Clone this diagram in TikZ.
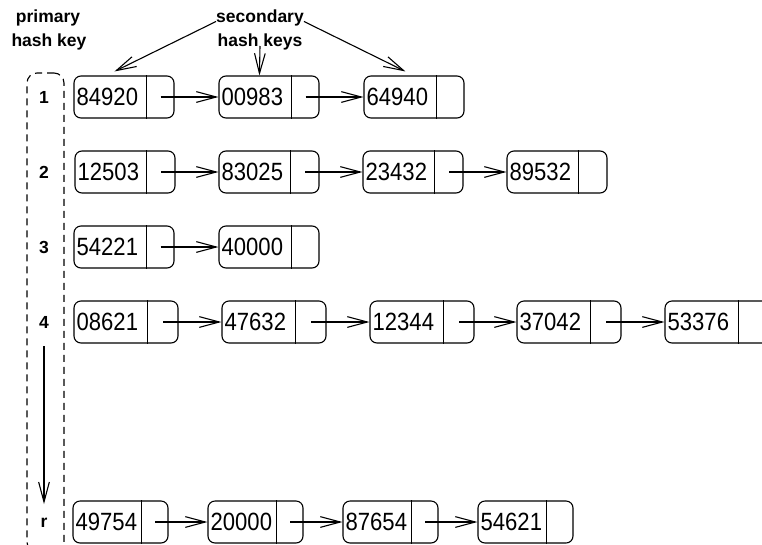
\documentclass[tikz,border=0pt]{standalone}
\usepackage{graphicx}
\usepackage{fontspec}
\setmainfont{Liberation Sans}
\usetikzlibrary{arrows.meta,calc}
\newcommand\numtxt[1]{\scalebox{0.92}[1.04]{\fontsize{24}{24}\selectfont #1}}
% \lcell{name}{left x}{center y}{width}{divider offset}{text}
\newcommand\lcell[6]{%
  \node[cellbox, minimum width=#4pt] (#1) at ({#2+#4/2},#3) {};
  \draw[thinline] ([xshift=#5pt]#1.north west) -- ([xshift=#5pt]#1.south west);
  \node[anchor=west, inner sep=0pt] (#1t) at ([xshift=3pt]#1.west) {\numtxt{#6}};
  \coordinate (#1p) at ($([xshift=#5pt]#1.west)!0.5!(#1.east)$);
}
\tikzset{
  thinline/.style={line width=1.1pt},
  cellbox/.style={draw, line width=1.1pt, rounded corners=7pt, minimum height=42pt, inner sep=0pt},
  arr/.style={line width=1.1pt, arrows={-Straight Barb[angle'=30, length=20pt, line cap=butt, line join=miter]}},
  lbl/.style={inner sep=0pt, font=\fontsize{17.5}{17.5}\selectfont\bfseries},
  frame/.style={draw, line width=1.1pt, dash pattern=on 7pt off 5pt, rounded corners=10pt, inner sep=0pt}
}
\begin{document}
\begin{tikzpicture}[x=1pt,y=-1pt]
\useasboundingbox (0,0) rectangle (762,544);
% frame of primary keys
\node[frame, minimum width=37pt, minimum height=479pt] (fr) at (45.5,312.5) {};
% headings
\node[lbl, anchor=base] (p1) at (48,22.5) {primary};
\node[lbl, anchor=base] (p2) at (49,46) {hash key};
\node[lbl, anchor=base] (s1) at (260,22) {secondary};
\node[lbl, anchor=base] (s2) at (260,46) {hash keys};
% row labels
\node[lbl] (l1) at (44,97) {1};
\node[lbl] (l2) at (44,172) {2};
\node[lbl] (l3) at (44,247) {3};
\node[lbl] (l4) at (44,322) {4};
\node[lbl] (lr) at (44,523) {r};
% row 1
\lcell{a1}{74}{97}{100}{73}{84920}
\lcell{a2}{219}{97}{100}{73}{00983}
\lcell{a3}{364}{97}{100}{73}{64940}
% row 2
\lcell{b1}{75}{172}{100}{72}{12503}
\lcell{b2}{219}{172}{100}{72}{83025}
\lcell{b3}{363}{172}{100}{72}{23432}
\lcell{b4}{507}{172}{100}{72}{89532}
% row 3
\lcell{c1}{74}{247}{100}{73}{54221}
\lcell{c2}{219}{247}{100}{73}{40000}
% row 4
\lcell{d1}{74}{322}{104}{74}{08621}
\lcell{d2}{222}{322}{104}{74}{47632}
\lcell{d3}{370}{322}{104}{74}{12344}
\lcell{d4}{517}{322}{104}{74}{37042}
\lcell{d5}{665}{322}{104}{74}{53376}
% row r
\lcell{e1}{73}{522}{95}{69}{49754}
\lcell{e2}{208}{522}{95}{69}{20000}
\lcell{e3}{343}{522}{95}{69}{87654}
\lcell{e4}{478}{522}{95}{69}{54621}
% links
\draw[arr] (a1p) -- (a2.west);
\draw[arr] (a2p) -- (a3.west);
\draw[arr] (b1p) -- (b2.west);
\draw[arr] (b2p) -- (b3.west);
\draw[arr] (b3p) -- (b4.west);
\draw[arr] (c1p) -- (c2.west);
\draw[arr] (d1p) -- (d2.west);
\draw[arr] (d2p) -- (d3.west);
\draw[arr] (d3p) -- (d4.west);
\draw[arr] (d4p) -- (d5.west);
\draw[arr] (e1p) -- (e2.west);
\draw[arr] (e2p) -- (e3.west);
\draw[arr] (e3p) -- (e4.west);
% annotation arrows
\draw[arr] ([yshift=-4pt]s1.west) -- ($(a1.north west)+(41,-4)$);
\draw[arr] (s2.base) -- ($(a2.north west)+(41,0)$);
\draw[arr] ([yshift=-4pt]s1.east) -- ($(a3.north west)+(42,-4)$);
% vertical arrow
\draw[arr] ([yshift=-18pt]l4.south) -- ([yshift=14pt]lr.north);
\end{tikzpicture}
\end{document}
